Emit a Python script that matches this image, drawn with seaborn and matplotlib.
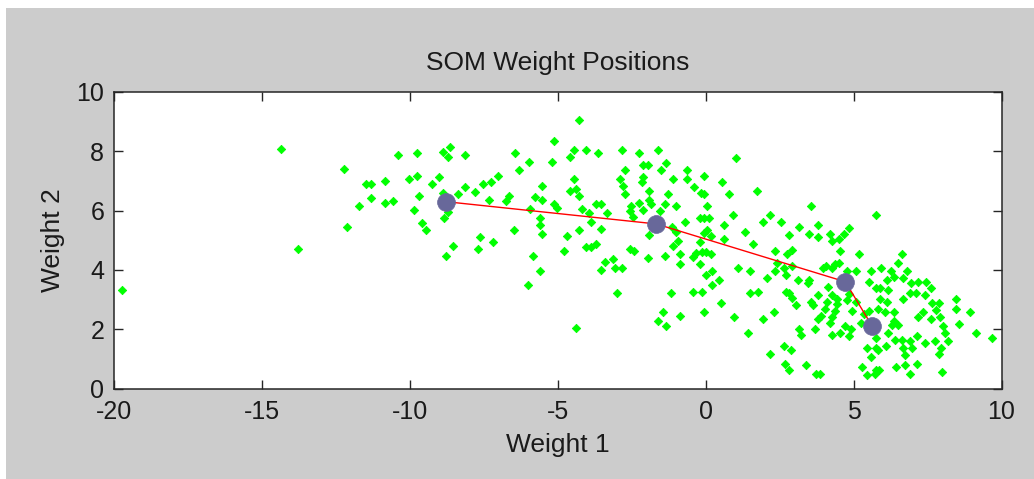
import matplotlib
matplotlib.use("Agg")
import matplotlib.pyplot as plt
import seaborn as sns
import pandas as pd
from matplotlib.patches import Rectangle

# ---- data: input vectors (green) ----
weight1 = [
    -14.37, -13.78, -19.72,
    -12.23, -10.39, -9.76, -8.89, -8.65, -8.71, -11.48, -11.30, -10.84, -10.04, -9.75, -9.00, -9.24,
    -11.32, -11.72, -10.85, -10.56, -9.69, -9.87, -12.11, -9.58, -9.47, -8.85, -8.70, -8.54, -8.78,
    -8.88, -8.37,
    -8.15, -8.14, -7.80, -7.52, -7.27, -7.03, -7.33, -6.76, -6.65, -6.46, -6.30, -5.96, -7.62, -7.68,
    -7.18, -6.47, -5.94, -5.78, -5.54, -5.54, -5.61, -5.61, -5.54, -5.82, -5.61, -5.99, -5.13, -5.20,
    -5.13, -5.03, -4.69, -4.80, -4.39, -4.27, -4.45, -4.57, -4.05, -3.63, -4.45, -4.57, -4.39, -4.27,
    -4.17, -3.93, -4.27, -3.88, -3.70, -3.53, -3.53, -4.05, -3.86, -3.70, -3.41, -3.53, -3.35,
    -2.83, -2.25, -1.62, -2.11, -1.96, -1.33, -1.52, -2.73, -2.88, -2.78, -2.73, -2.11, -2.14, -1.92,
    -1.28, -1.92, -2.25, -1.84, -2.51, -2.57, -2.11, -1.39, -1.56, -2.46, -1.10, -0.99, -0.63, -0.63,
    -0.41, -0.17, -0.06, -0.06, 0.04, 0.56, 0.80, 1.02, 1.73, -1.92, -1.15, -0.99, -0.92, -1.10,
    -0.70, -0.20, -0.06, 0.11, 0.04, -0.06, 0.17, -0.20, 0.62, 0.62, 0.91, 1.32, 1.60, -2.55, -2.42,
    -1.95, -1.39, -0.87, -0.88, -0.43, -0.34, -0.14, 0.00, 0.17, -0.20, 0.00, 0.23, 0.45, 0.23, -0.12,
    -0.43, 0.51, -0.06, 1.09, 1.49, 1.49, 1.77, 0.97, 1.44, -3.12, -3.08, -2.83, -3.01, -1.16, -0.87,
    -1.44, -1.62, -1.33,
    3.56, 2.19, 1.95, 2.53, 3.15, 3.80, 3.50, 2.82, 3.80, 4.20, 4.26, 4.50, 4.67, 4.83, 5.75, 2.36,
    2.76, 2.93, 4.53, 5.18, 2.42, 2.36, 2.65, 2.93, 2.70, 2.06, 3.11, 3.50, 3.45, 3.97, 4.08, 4.26,
    4.37, 4.50, 4.79, 5.07, 5.59, 5.53, 5.76, 4.15, 4.26, 4.44, 4.09, 3.80, 3.56, 3.63, 4.03, 4.37,
    4.44, 4.79, 4.84, 4.96, 5.07, 4.26, 3.80, 3.91, 4.20, 3.69, 4.26, 4.55, 4.72, 4.90, 4.84, 5.24,
    3.15, 3.21, 2.30, 1.95, 2.65, 2.87, 2.19, 2.69, 2.82, 3.39, 3.74, 3.85, 2.70, 2.82, 2.93, 3.04,
    5.35, 5.46, 5.59, 5.30, 5.46, 5.76, 5.76, 5.53,
    6.62, 6.50, 5.92, 6.27, 6.80, 6.37, 6.67, 6.12, 5.89, 6.18, 6.95, 7.19, 7.44, 7.60, 6.90, 7.12,
    7.40, 6.67, 7.66, 7.89, 8.46, 8.46, 8.93, 8.57, 9.15, 9.67, 5.89, 6.12, 5.83, 6.06, 6.36, 6.38,
    6.30, 6.49, 7.19, 7.35, 7.60, 7.80, 7.91, 8.03, 8.09, 8.18, 7.96, 7.88, 8.00, 6.17, 5.77, 6.41,
    6.62, 6.91, 7.16, 7.43, 7.74, 6.08, 6.67, 6.96, 6.73, 5.83, 7.13, 6.73, 6.45, 6.91, 5.86, 5.71,
]
weight2 = [
    8.09, 4.70, 3.32,
    7.41, 7.87, 7.94, 7.99, 8.16, 7.80, 6.89, 6.89, 7.01, 7.07, 7.18, 7.13, 6.89,
    6.44, 6.15, 6.26, 6.33, 6.49, 6.03, 5.46, 5.57, 5.34, 5.74, 5.96, 4.82, 4.48,
    6.59, 6.55,
    7.88, 6.78, 6.62, 6.89, 6.96, 7.18, 6.37, 6.32, 6.50, 7.94, 7.36, 7.65, 5.11, 4.71,
    4.93, 5.34, 6.05, 6.45, 6.83, 6.37, 5.74, 5.51, 5.21, 4.48, 3.95, 3.50, 8.34, 7.65,
    6.22, 6.08, 5.16, 4.64, 2.05, 9.07, 8.04, 7.80, 8.04, 7.93, 7.07, 6.67, 6.72, 6.49,
    6.05, 5.92, 5.34, 5.63, 6.22, 6.22, 5.39, 4.76, 4.78, 4.87, 4.26, 4.01, 5.91,
    8.04, 7.94, 8.04, 7.53, 7.53, 7.59, 7.36, 7.36, 7.07, 6.83, 6.55, 7.13, 6.96, 6.67,
    6.55, 6.37, 6.26, 6.22, 6.14, 5.97, 6.03, 6.22, 5.97, 5.80, 7.07, 6.15, 7.36, 7.07,
    6.78, 6.61, 6.55, 7.18, 6.15, 6.96, 6.55, 7.76, 6.67, 5.17, 5.46, 5.28, 4.99, 4.82,
    5.63, 5.74, 5.74, 5.74, 5.35, 5.24, 5.16, 4.93, 5.52, 5.05, 5.85, 5.28, 4.87, 4.71, 4.64,
    4.41, 4.48, 4.54, 4.19, 4.45, 4.58, 4.59, 4.59, 4.54, 4.19, 3.83, 3.96, 3.66, 3.50, 3.26,
    3.26, 2.87, 2.58, 4.07, 3.95, 3.21, 3.26, 2.40, 1.88, 4.36, 4.06, 4.06, 3.21, 3.21, 2.45,
    2.58, 2.28, 2.10,
    6.15, 5.85, 5.63, 5.63, 5.46, 5.52, 5.22, 5.17, 5.11, 5.22, 4.99, 5.05, 5.22, 5.41, 5.85, 4.64,
    4.54, 4.67, 4.64, 4.54, 4.24, 3.95, 4.06, 4.13, 3.84, 3.72, 3.66, 3.66, 3.55, 4.06, 4.13, 4.06,
    4.19, 4.24, 3.95, 3.95, 3.95, 3.60, 3.38, 3.43, 3.14, 3.03, 2.92, 3.14, 2.92, 2.80, 2.68, 2.62,
    2.85, 2.98, 3.20, 2.62, 2.92, 2.40, 2.34, 2.45, 2.22, 1.99, 1.82, 1.88, 2.10, 1.99, 1.77, 2.22,
    1.99, 1.82, 2.58, 2.34, 1.42, 1.30, 1.18, 0.84, 0.61, 0.79, 0.49, 0.49, 3.26, 3.21, 3.04, 2.80,
    2.51, 1.36, 1.07, 0.72, 0.44, 0.61, 1.36, 2.62,
    4.54, 4.24, 4.06, 3.95, 3.95, 3.77, 3.72, 3.66, 3.38, 3.32, 3.55, 3.60, 3.60, 3.38, 3.21, 3.21,
    3.15, 3.03, 2.87, 2.87, 3.03, 2.69, 2.58, 2.17, 1.88, 1.70, 3.03, 2.92, 2.69, 2.58, 2.58, 2.28,
    2.14, 2.14, 2.40, 2.58, 2.34, 2.65, 2.42, 2.10, 1.88, 1.59, 1.36, 1.18, 0.55, 1.88, 1.72, 1.65,
    1.65, 1.59, 1.77, 1.53, 1.59, 1.42, 1.36, 1.36, 1.13, 1.29, 0.84, 0.79, 0.73, 0.49, 0.61, 0.49,
]

# ---- data: SOM neuron weights ----
som_w1 = [-8.77, -1.67, 4.72, 5.63]
som_w2 = [6.30, 5.55, 3.60, 2.10]

x_ticks = [-20, -15, -10, -5, 0, 5, 10]
y_ticks = [0, 2, 4, 6, 8, 10]

pts = pd.DataFrame({"w1": weight1, "w2": weight2})
som = pd.DataFrame({"w1": som_w1, "w2": som_w2})

sns.set_theme(style="white")
plt.rcParams["font.family"] = ["Liberation Sans", "DejaVu Sans"]

GRAY = "#cccccc"
TXT = "#1a1a1a"
fig = plt.figure(figsize=(10.34, 4.79), dpi=100, facecolor="white")
fig.patches.append(Rectangle((6 / 1034, 0), 1, 1 - 8 / 479, transform=fig.transFigure,
                             facecolor=GRAY, edgecolor="none", zorder=-10))
ax = fig.add_axes([114 / 1034, 1 - 388.5 / 479, (1001.5 - 114) / 1034, (388.5 - 92) / 479])
ax.set_facecolor("white")

sns.scatterplot(data=pts, x="w1", y="w2", ax=ax, marker="D", s=18, color="#00ff00",
                edgecolor="#00ff00", linewidth=0.6, zorder=2, legend=False)
sns.lineplot(data=som, x="w1", y="w2", ax=ax, sort=False, color="#ff0000", linewidth=1.0,
             zorder=3, legend=False)
sns.scatterplot(data=som, x="w1", y="w2", ax=ax, marker="o", s=165, color="#68689a",
                edgecolor="#68689a", linewidth=0.5, zorder=4, legend=False)

ax.set_xlim(-20, 10)
ax.set_ylim(0, 10)
ax.set_xticks(x_ticks)
ax.set_yticks(y_ticks)
ax.set_xticklabels([str(t) for t in x_ticks])
ax.set_yticklabels([str(t) for t in y_ticks])
ax.tick_params(direction="in", length=6.5, width=1, color="#262626", labelsize=18,
               labelcolor=TXT, top=True, right=True, bottom=True, left=True)
ax.tick_params(axis="x", pad=8)
ax.tick_params(axis="y", pad=7)
for sp in ax.spines.values():
    sp.set_visible(True)
    sp.set_color("#262626")
    sp.set_linewidth(1.1)

ax.set_xlabel("Weight 1", fontsize=19, color=TXT, labelpad=6.5)
ax.set_ylabel("Weight 2", fontsize=19, color=TXT, labelpad=8)
ax.set_title("SOM Weight Positions", fontsize=19, color=TXT, pad=16)

fig.savefig("out.png", dpi=100, facecolor=fig.get_facecolor())
